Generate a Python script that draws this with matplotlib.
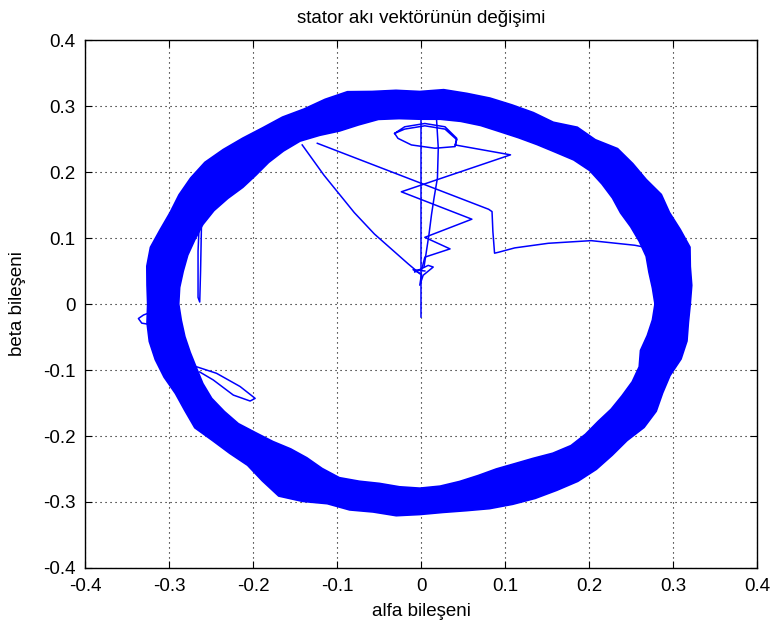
import numpy as np
import matplotlib
matplotlib.use("Agg")
import matplotlib.pyplot as plt

plt.rcParams['font.family'] = ['Liberation Sans', 'DejaVu Sans']

# halka (kararlı durum) : açı (derece, 5 derece arayla) -> iç ve dış yarıçap
ring_center = (-0.002, 0.0)
ring_angle = list(range(0, 360, 5))
ring_outer = [.322, .325, .327, .333, .330, .328, .332, .329, .331, .333, .325, .327,
              .318, .320, .321, .323, .324, .326, .322, .325, .327, .333, .330, .326,
              .327, .326, .328, .331, .334, .333, .331, .328, .329, .332, .330, .326,
              .324, .326, .327, .326, .324, .321, .323, .327, .322, .320, .319, .327,
              .336, .330, .322, .323, .320, .322, .319, .317, .318, .321, .323, .325,
              .326, .328, .327, .324, .322, .326, .325, .319, .317, .322, .323, .321]
ring_inner = [.280, .278, .277, .279, .278, .277, .276, .280, .283, .286, .285, .281,
              .279, .278, .278, .280, .281, .281, .280, .282, .284, .281, .279, .282,
              .285, .283, .280, .276, .275, .279, .283, .285, .285, .286, .286, .287,
              .287, .285, .284, .283, .283, .285, .286, .284, .282, .276, .272, .268,
              .269, .275, .280, .278, .276, .278, .279, .277, .273, .269, .266, .267,
              .270, .276, .280, .279, .277, .278, .278, .279, .278, .272, .275, .278]

# geçici durum yörüngeleri (alfa, beta)
yol_a_x = [-0.142, -0.116, -0.080, -0.056, -0.036, -0.016, -0.002]
yol_a_y = [0.241, 0.195, 0.1385, 0.106, 0.0835, 0.061, 0.046]

yol_b_x = [-0.124, 0.080, 0.084, 0.085, 0.087, 0.092, 0.111, 0.151, 0.202, 0.254, 0.262, 0.285]
yol_b_y = [0.2435, 0.1435, 0.140, 0.110, 0.077, 0.0785, 0.085, 0.092, 0.096, 0.089, 0.087, 0.090]

yol_c_x = [0.0, 0.0]
yol_c_y = [0.29, -0.019]

yol_d_x = [-0.032, -0.020, 0.004, 0.028, 0.042, 0.040, 0.016, -0.012, -0.028, -0.032,
           -0.020, 0.004, 0.028, 0.042, 0.040, 0.106, -0.024, 0.060, 0.004, 0.034, 0.004, 0.0]
yol_d_y = [0.2585, 0.2685, 0.2735, 0.2685, 0.251, 0.2385, 0.236, 0.241, 0.251, 0.2585,
           0.2650, 0.2700, 0.2650, 0.249, 0.241, 0.226, 0.170, 0.1285, 0.101, 0.0835, 0.071, 0.051]

yol_e_x = [0.018, 0.020, 0.019, 0.015, 0.012, 0.009, 0.006, 0.003]
yol_e_y = [0.2785, 0.236, 0.191, 0.161, 0.136, 0.106, 0.081, 0.056]

kume_x = [-0.008, 0.008, 0.014, 0.002, -0.002, 0.0, -0.010, 0.004]
kume_y = [0.0485, 0.0585, 0.056, 0.0435, 0.0285, 0.045, 0.052, 0.050]

# halka üzerindeki taşmalar
tasma_f_x = [-0.262, -0.263, -0.264, -0.266, -0.266, -0.265]
tasma_f_y = [0.115, 0.050, 0.003, 0.010, 0.080, 0.110]
tasma_g_x = [-0.268, -0.244, -0.216, -0.198, -0.204, -0.224, -0.248, -0.264]
tasma_g_y = [-0.095, -0.105, -0.125, -0.143, -0.147, -0.138, -0.115, -0.103]
tasma_h_x = [-0.315, -0.331, -0.337, -0.333, -0.319, -0.310]
tasma_h_y = [-0.009, -0.0167, -0.022, -0.029, -0.032, -0.025]

fig = plt.figure(figsize=(7.73, 6.27), dpi=100)
ax = fig.add_axes([0.1106, 0.0941, 0.8693, 0.8421])

mavi = (0, 0, 1)

th = np.deg2rad(np.array(ring_angle + [ring_angle[0] + 360]))
ro = np.array(ring_outer + [ring_outer[0]])
ri = np.array(ring_inner + [ring_inner[0]])
ox = ring_center[0] + ro * np.cos(th)
oy = ring_center[1] + ro * np.sin(th)
ix = ring_center[0] + ri * np.cos(th)
iy = ring_center[1] + ri * np.sin(th)
ax.fill(np.concatenate([ox, ix[::-1]]), np.concatenate([oy, iy[::-1]]),
        color=mavi, lw=0, zorder=2)
ax.plot(ox, oy, color=mavi, lw=1.2, zorder=2)
ax.plot(ix, iy, color=mavi, lw=1.2, zorder=2)

for xs, ys in [(yol_a_x, yol_a_y), (yol_b_x, yol_b_y), (yol_c_x, yol_c_y),
               (yol_d_x, yol_d_y), (yol_e_x, yol_e_y), (kume_x, kume_y),
               (tasma_f_x, tasma_f_y), (tasma_g_x, tasma_g_y), (tasma_h_x, tasma_h_y)]:
    ax.plot(xs, ys, color=mavi, lw=1.1, zorder=3)

ax.set_xlim(-0.4, 0.4)
ax.set_ylim(-0.4, 0.4)
ticks = [-0.4, -0.3, -0.2, -0.1, 0, 0.1, 0.2, 0.3, 0.4]
tick_labels = ['-0.4', '-0.3', '-0.2', '-0.1', '0', '0.1', '0.2', '0.3', '0.4']
ax.set_xticks(ticks)
ax.set_xticklabels(tick_labels)
ax.set_yticks(ticks)
ax.set_yticklabels(tick_labels)
ax.tick_params(direction='in', length=5, width=0.8, labelsize=13.5, pad=7,
               top=True, right=True, colors='black')
ax.grid(True, color='black', linestyle=(0, (1, 3.5)), linewidth=0.8)
for s in ax.spines.values():
    s.set_linewidth(1.0)

ax.set_title('stator akı vektörünün değişimi', fontsize=13.5, pad=12)
ax.set_xlabel('alfa bileşeni', fontsize=13.5)
ax.set_ylabel('beta bileşeni', fontsize=13.5)
ax.xaxis.set_label_coords(0.5, -0.066)
ax.yaxis.set_label_coords(-0.088, 0.5)

fig.savefig('out.png', dpi=100)
